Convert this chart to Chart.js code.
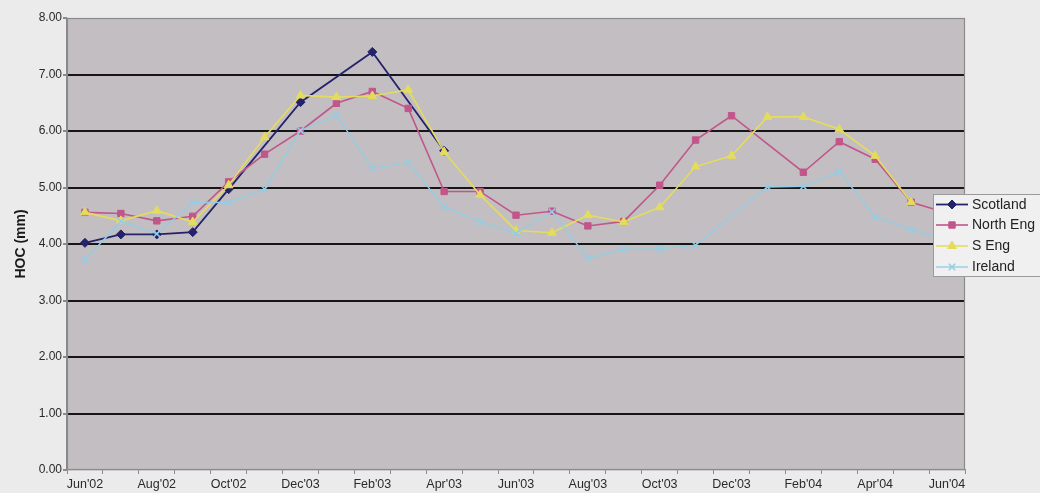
<!DOCTYPE html>
<html>
<head>
<meta charset="utf-8">
<script src="https://cdn.jsdelivr.net/npm/chart.js@4/dist/chart.umd.min.js"></script>
<style>
  html, body { margin: 0; padding: 0; background: #ebebec; }
  #wrap { width: 1040px; height: 493px; position: relative; }
</style>
</head>
<body>
<div id="wrap"><canvas id="c" width="1040" height="493"></canvas></div>
<script>
const categories = ["Jun'02","Jul'02","Aug'02","Sep'02","Oct'02","Nov'02","Dec'03","Jan'03","Feb'03","Mar'03","Apr'03","May'03","Jun'03","Jul'03","Aug'03","Sep'03","Oct'03","Nov'03","Dec'03","Jan'04","Feb'04","Mar'04","Apr'04","May'04","Jun'04"];
const scotland = [4.02, 4.17, 4.17, 4.21, 4.97, null, 6.51, null, 7.40, null, 5.65, null, null, null, null, null, null, null, null, null, null, null, null, null, null];
const northEng = [4.56, 4.54, 4.41, 4.49, 5.10, 5.59, 6.00, 6.49, 6.70, 6.40, 4.93, 4.93, 4.51, 4.58, 4.32, 4.40, 5.04, 5.84, 6.27, null, 5.27, 5.81, 5.50, 4.74, 4.55];
const sEng = [4.56, 4.41, 4.59, 4.39, 5.04, 5.89, 6.63, 6.60, 6.62, 6.73, 5.63, 4.87, 4.24, 4.20, 4.51, 4.39, 4.65, 5.37, 5.56, 6.25, 6.25, 6.03, 5.56, 4.74, null];
const ireland = [3.72, 4.40, 4.18, 4.73, 4.74, 4.97, 6.01, 6.28, 5.34, 5.44, 4.66, 4.39, 4.19, 4.57, 3.75, 3.91, 3.91, 3.98, null, 5.01, 5.02, 5.28, 4.48, 4.25, 4.08];
const yTicks = [0, 1, 2, 3, 4, 5, 6, 7, 8];

const FONT = "'Liberation Sans', Arial, sans-serif";
const PLOT_BG = '#c2bec2';

function ds(label, data, color, style, radius, width) {
  return {
    label, data,
    borderColor: color, backgroundColor: color,
    pointBackgroundColor: color, pointBorderColor: color,
    pointStyle: style, pointRadius: radius, pointHoverRadius: radius,
    pointBorderWidth: style === 'crossRot' ? 1.5 : 1,
    borderWidth: width, tension: 0, spanGaps: true, fill: false
  };
}

const datasets = [
  ds('Ireland', ireland, '#94cde4', 'crossRot', 4.5, 1.4),
  ds('S Eng', sEng, '#e4dc5c', 'triangle', 5, 1.6),
  ds('North Eng', northEng, '#c1568b', 'rect', 4.5, 1.6),
  ds('Scotland', scotland, '#25226c', 'rectRot', 4.5, 1.8)
];
const legendOrder = ['Scotland', 'North Eng', 'S Eng', 'Ireland'];

const bgPlugin = {
  id: 'bg',
  beforeDraw(chart) {
    const { ctx, chartArea: a } = chart;
    ctx.save();
    ctx.fillStyle = PLOT_BG;
    ctx.fillRect(a.left, a.top, a.right - a.left, a.bottom - a.top);
    ctx.restore();
  },
  afterDraw(chart) {
    const { ctx, chartArea: a } = chart;
    ctx.save();
    ctx.strokeStyle = '#8a8a8a';
    ctx.lineWidth = 1.2;
    ctx.strokeRect(a.left + 0.5, a.top + 0.5, a.right - a.left - 1, a.bottom - a.top - 1);
    // legend
    const lx = 933, ly = 194, lw = 120, lh = 83;
    ctx.fillStyle = '#f0f0f0';
    ctx.fillRect(lx, ly, lw, lh);
    ctx.strokeStyle = '#9a9a9a';
    ctx.lineWidth = 1;
    ctx.strokeRect(lx + 0.5, ly + 0.5, lw, lh - 1);
    const rows = [204.5, 225, 246, 267];
    ctx.font = '14px ' + FONT;
    ctx.textBaseline = 'middle';
    ctx.textAlign = 'left';
    legendOrder.forEach((name, i) => {
      const d = chart.data.datasets.find(x => x.label === name);
      const y = rows[i];
      ctx.strokeStyle = d.borderColor;
      ctx.lineWidth = d.borderWidth;
      ctx.beginPath();
      ctx.moveTo(936, y);
      ctx.lineTo(968, y);
      ctx.stroke();
      ctx.fillStyle = d.pointBackgroundColor;
      ctx.strokeStyle = d.pointBorderColor;
      ctx.lineWidth = d.pointBorderWidth;
      Chart.helpers.drawPoint(ctx, {
        pointStyle: d.pointStyle, radius: d.pointRadius, borderWidth: d.pointBorderWidth, rotation: 0
      }, 952, y);
      ctx.fillStyle = '#222';
      ctx.fillText(name, 972, y + 0.5);
    });
    ctx.restore();
  }
};

new Chart(document.getElementById('c'), {
  type: 'line',
  data: { labels: categories, datasets },
  options: {
    responsive: false,
    animation: false,
    devicePixelRatio: 1,
    layout: { padding: { left: 0, top: 18, right: 75, bottom: 0 } },
    plugins: { legend: { display: false }, tooltip: { enabled: false } },
    scales: {
      x: {
        type: 'category',
        offset: true,
        grid: { display: true, drawOnChartArea: false, drawTicks: true, tickLength: 4, tickColor: '#8a8a8a', offset: true },
        border: { display: true, color: '#8a8a8a', width: 1.2 },
        ticks: {
          autoSkip: false, maxRotation: 0, minRotation: 0, padding: 3,
          color: '#2a2a2a', font: { family: FONT, size: 12.5 },
          callback: (v, i) => (i % 2 === 0 ? categories[i] : '')
        },
        afterFit: s => { s.height = 23; }
      },
      y: {
        min: 0, max: 8,
        afterBuildTicks: s => { s.ticks = yTicks.map(v => ({ value: v })); },
        grid: {
          color: c => (c.tick && c.tick.value > 0 && c.tick.value < 8 ? '#161616' : 'rgba(0,0,0,0)'),
          lineWidth: 2, drawTicks: true, tickLength: 4, tickColor: '#8a8a8a'
        },
        border: { display: true, color: '#8a8a8a', width: 1.2 },
        ticks: {
          color: '#2a2a2a', font: { family: FONT, size: 12 }, padding: 1,
          callback: v => Number(v).toFixed(2)
        },
        title: {
          display: true, text: 'HOC (mm)', color: '#1a1a1a',
          font: { family: FONT, size: 14, weight: 'bold' }, padding: { top: 13, bottom: 6 }
        },
        afterFit: s => { s.width = 67; }
      }
    }
  },
  plugins: [bgPlugin]
});
</script>
</body>
</html>
